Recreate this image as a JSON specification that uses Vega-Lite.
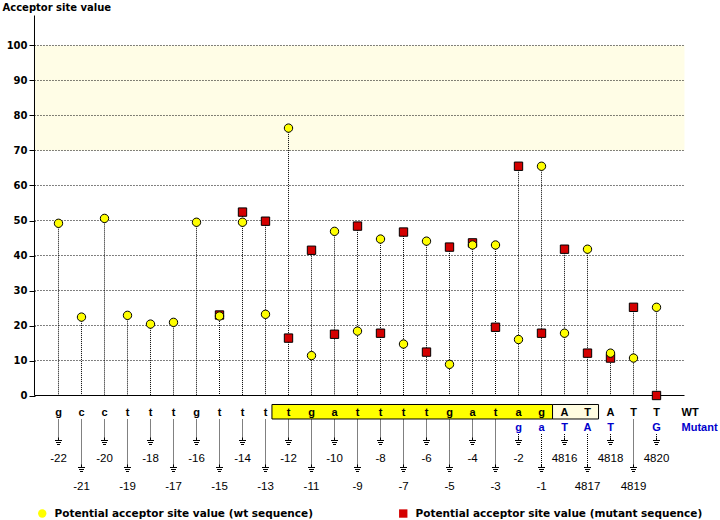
{
  "$schema": "https://vega.github.io/schema/vega-lite/v6.json",
  "width": 650,
  "height": 505,
  "autosize": {"type": "none"},
  "padding": {"left": 35, "top": 15, "right": 35, "bottom": 0},
  "background": "white",
  "config": {
    "view": {"stroke": null},
    "font": "DejaVu Sans",
    "axisY": {
      "grid": false, "domain": false, "ticks": true, "tickSize": 6, "tickColor": "black", "tickWidth": 1,
      "labelFont": "DejaVu Sans", "labelFontWeight": "bold", "labelFontSize": 10, "labelColor": "black", "labelPadding": 2,
      "titleFont": "DejaVu Sans", "titleFontWeight": "bold", "titleFontSize": 10, "titleColor": "black",
      "titleAngle": 0, "titleAlign": "left", "titleBaseline": "middle", "titleX": -33, "titleY": -8
    }
  },
  "datasets": {
    "pts": [
      {"i": 7, "s": "mut", "v": 23.0}, {"i": 8, "s": "mut", "v": 52.4}, {"i": 9, "s": "mut", "v": 49.8},
      {"i": 10, "s": "mut", "v": 16.4}, {"i": 11, "s": "mut", "v": 41.5}, {"i": 12, "s": "mut", "v": 17.5},
      {"i": 13, "s": "mut", "v": 48.4}, {"i": 14, "s": "mut", "v": 17.8}, {"i": 15, "s": "mut", "v": 46.7},
      {"i": 16, "s": "mut", "v": 12.4}, {"i": 17, "s": "mut", "v": 42.4}, {"i": 18, "s": "mut", "v": 43.6},
      {"i": 19, "s": "mut", "v": 19.5}, {"i": 20, "s": "mut", "v": 65.5}, {"i": 21, "s": "mut", "v": 17.8},
      {"i": 22, "s": "mut", "v": 41.8}, {"i": 23, "s": "mut", "v": 12.1}, {"i": 24, "s": "mut", "v": 10.7},
      {"i": 25, "s": "mut", "v": 25.2}, {"i": 26, "s": "mut", "v": 0},
      {"i": 0, "s": "wt", "v": 49.2}, {"i": 1, "s": "wt", "v": 22.4}, {"i": 2, "s": "wt", "v": 50.6},
      {"i": 3, "s": "wt", "v": 22.9}, {"i": 4, "s": "wt", "v": 20.4}, {"i": 5, "s": "wt", "v": 20.9},
      {"i": 6, "s": "wt", "v": 49.5}, {"i": 7, "s": "wt", "v": 22.7}, {"i": 8, "s": "wt", "v": 49.5},
      {"i": 9, "s": "wt", "v": 23.2}, {"i": 10, "s": "wt", "v": 76.4}, {"i": 11, "s": "wt", "v": 11.4},
      {"i": 12, "s": "wt", "v": 46.9}, {"i": 13, "s": "wt", "v": 18.4}, {"i": 14, "s": "wt", "v": 44.7},
      {"i": 15, "s": "wt", "v": 14.7}, {"i": 16, "s": "wt", "v": 44.1}, {"i": 17, "s": "wt", "v": 8.9},
      {"i": 18, "s": "wt", "v": 43.0}, {"i": 19, "s": "wt", "v": 43.0}, {"i": 20, "s": "wt", "v": 16.0},
      {"i": 21, "s": "wt", "v": 65.5}, {"i": 22, "s": "wt", "v": 17.8}, {"i": 23, "s": "wt", "v": 41.8},
      {"i": 24, "s": "wt", "v": 12.1}, {"i": 25, "s": "wt", "v": 10.7}, {"i": 26, "s": "wt", "v": 25.2}
    ],
    "seq": [
      {"i": 0, "pos": "-22", "wt": "g", "mut": ""}, {"i": 1, "pos": "-21", "wt": "c", "mut": ""},
      {"i": 2, "pos": "-20", "wt": "c", "mut": ""}, {"i": 3, "pos": "-19", "wt": "t", "mut": ""},
      {"i": 4, "pos": "-18", "wt": "t", "mut": ""}, {"i": 5, "pos": "-17", "wt": "t", "mut": ""},
      {"i": 6, "pos": "-16", "wt": "g", "mut": ""}, {"i": 7, "pos": "-15", "wt": "t", "mut": ""},
      {"i": 8, "pos": "-14", "wt": "t", "mut": ""}, {"i": 9, "pos": "-13", "wt": "t", "mut": ""},
      {"i": 10, "pos": "-12", "wt": "t", "mut": ""}, {"i": 11, "pos": "-11", "wt": "g", "mut": ""},
      {"i": 12, "pos": "-10", "wt": "a", "mut": ""}, {"i": 13, "pos": "-9", "wt": "t", "mut": ""},
      {"i": 14, "pos": "-8", "wt": "t", "mut": ""}, {"i": 15, "pos": "-7", "wt": "t", "mut": ""},
      {"i": 16, "pos": "-6", "wt": "t", "mut": ""}, {"i": 17, "pos": "-5", "wt": "g", "mut": ""},
      {"i": 18, "pos": "-4", "wt": "a", "mut": ""}, {"i": 19, "pos": "-3", "wt": "t", "mut": ""},
      {"i": 20, "pos": "-2", "wt": "a", "mut": "g"}, {"i": 21, "pos": "-1", "wt": "g", "mut": "a"},
      {"i": 22, "pos": "4816", "wt": "A", "mut": "T"}, {"i": 23, "pos": "4817", "wt": "T", "mut": "A"},
      {"i": 24, "pos": "4818", "wt": "A", "mut": "T"}, {"i": 25, "pos": "4819", "wt": "T", "mut": ""},
      {"i": 26, "pos": "4820", "wt": "T", "mut": "G"}
    ],
    "grid": [{"g": 10}, {"g": 20}, {"g": 30}, {"g": 40}, {"g": 50}, {"g": 60}, {"g": 70}, {"g": 80}, {"g": 90}, {"g": 100}]
  },
  "layer": [
    {
      "data": {"values": [{}]},
      "mark": {"type": "rect", "fill": "#FFFDE6"},
      "encoding": {
        "x": {"datum": -1.0435, "type": "quantitative", "scale": {"domain": [-1.0217, 27.239], "nice": false, "zero": false}, "axis": null},
        "x2": {"datum": 27.217},
        "y": {"datum": 70, "type": "quantitative", "scale": {"domain": [-35.571, 108.714], "nice": false, "zero": false}},
        "y2": {"datum": 100}
      }
    },
    {
      "data": {"name": "grid"},
      "mark": {"type": "rule", "color": "black", "strokeWidth": 1, "strokeDash": [1, 2]},
      "encoding": {
        "x": {"datum": -1.0435, "type": "quantitative", "axis": null},
        "x2": {"datum": 27.217},
        "y": {"field": "g", "type": "quantitative"}
      }
    },
    {
      "data": {"values": [{}]},
      "mark": {"type": "rule", "color": "black", "strokeWidth": 1},
      "encoding": {
        "x": {"datum": -1.0435, "type": "quantitative", "axis": null},
        "x2": {"datum": 27.217},
        "y": {"datum": 0, "type": "quantitative"}
      }
    },
    {
      "data": {"values": [{}]},
      "mark": {"type": "rule", "color": "black", "strokeWidth": 1},
      "encoding": {
        "x": {"datum": -1.0435, "type": "quantitative", "axis": null},
        "y": {"datum": 0, "type": "quantitative"},
        "y2": {"datum": 108.571}
      }
    },
    {
      "data": {"name": "pts"},
      "transform": [{"aggregate": [{"op": "max", "field": "v", "as": "top"}], "groupby": ["i"]}],
      "mark": {"type": "rule", "color": "black", "strokeWidth": 1, "strokeDash": [1, 1]},
      "encoding": {
        "x": {"field": "i", "type": "quantitative", "axis": null},
        "y": {"field": "top", "type": "quantitative"},
        "y2": {"datum": 0}
      }
    },
    {
      "data": {"name": "pts"},
      "mark": {"type": "point", "filled": true, "opacity": 1, "stroke": "black", "strokeWidth": 1, "size": 70},
      "encoding": {
        "x": {"field": "i", "type": "quantitative", "axis": null, "scale": {"domain": [-1.0217, 27.239], "nice": false, "zero": false}},
        "y": {"field": "v", "type": "quantitative", "scale": {"domain": [-35.571, 108.714], "nice": false, "zero": false},
          "axis": {"title": "Acceptor site value", "values": [0, 10, 20, 30, 40, 50, 60, 70, 80, 90, 100], "grid": false, "domain": false}},
        "shape": {"field": "s", "type": "nominal",
          "scale": {"domain": ["wt", "mut"], "range": ["circle", "square"]},
          "legend": {"title": null, "orient": "none", "legendX": 2, "legendY": 493, "direction": "horizontal",
            "labelExpr": "datum.label == 'wt' ? 'Potential acceptor site value (wt sequence)' : 'Potential acceptor site value (mutant sequence)'",
            "labelFont": "DejaVu Sans", "labelFontWeight": "bold", "labelFontSize": 10.5, "labelColor": "black", "labelLimit": 400,
            "symbolSize": 70, "symbolStrokeColor": "black", "symbolStrokeWidth": 1, "symbolOpacity": 1,
            "labelOffset": 7, "columnPadding": 84, "padding": 0}},
        "fill": {"field": "s", "type": "nominal",
          "scale": {"domain": ["wt", "mut"], "range": ["#FFFF00", "#D40000"]},
          "legend": {"title": null, "orient": "none", "legendX": 2, "legendY": 493, "direction": "horizontal",
            "labelExpr": "datum.label == 'wt' ? 'Potential acceptor site value (wt sequence)' : 'Potential acceptor site value (mutant sequence)'",
            "labelFont": "DejaVu Sans", "labelFontWeight": "bold", "labelFontSize": 10.5, "labelColor": "black", "labelLimit": 400,
            "symbolSize": 70, "symbolStrokeColor": "black", "symbolStrokeWidth": 1, "symbolOpacity": 1,
            "labelOffset": 7, "columnPadding": 84, "padding": 0}}
      }
    },
    {
      "data": {"values": [{}]},
      "mark": {"type": "rect", "fill": "#FFFF00", "stroke": "black", "strokeWidth": 1},
      "encoding": {
        "x": {"datum": 9.28, "type": "quantitative", "axis": null},
        "x2": {"datum": 21.48},
        "y": {"datum": -2.57, "type": "quantitative"},
        "y2": {"datum": -6.71}
      }
    },
    {
      "data": {"values": [{}]},
      "mark": {"type": "rect", "fill": "#FFFCE0", "stroke": "black", "strokeWidth": 1},
      "encoding": {
        "x": {"datum": 21.48, "type": "quantitative", "axis": null},
        "x2": {"datum": 23.48},
        "y": {"datum": -2.57, "type": "quantitative"},
        "y2": {"datum": -6.71}
      }
    },
    {
      "data": {"name": "seq"},
      "mark": {"type": "text", "font": "Liberation Sans", "fontWeight": "bold", "fontSize": 11, "color": "black", "baseline": "middle", "align": "center"},
      "encoding": {
        "x": {"field": "i", "type": "quantitative", "axis": null},
        "y": {"datum": -5.0, "type": "quantitative"},
        "text": {"field": "wt", "type": "nominal"}
      }
    },
    {
      "data": {"name": "seq"},
      "mark": {"type": "text", "font": "Liberation Sans", "fontWeight": "bold", "fontSize": 11, "color": "#0000CC", "baseline": "middle", "align": "center"},
      "encoding": {
        "x": {"field": "i", "type": "quantitative", "axis": null},
        "y": {"datum": -9.29, "type": "quantitative"},
        "text": {"field": "mut", "type": "nominal"}
      }
    },
    {
      "data": {"name": "seq"},
      "transform": [{"filter": "datum.i % 2 == 0 && datum.mut == ''"}],
      "mark": {"type": "rule", "color": "black", "strokeWidth": 1, "strokeDash": [1, 1]},
      "encoding": {
        "x": {"field": "i", "type": "quantitative", "axis": null},
        "y": {"datum": -6.86, "type": "quantitative"},
        "y2": {"datum": -12.29}
      }
    },
    {
      "data": {"name": "seq"},
      "transform": [{"filter": "datum.i % 2 == 0 && datum.mut != ''"}],
      "mark": {"type": "rule", "color": "black", "strokeWidth": 1, "strokeDash": [1, 1]},
      "encoding": {
        "x": {"field": "i", "type": "quantitative", "axis": null},
        "y": {"datum": -11.0, "type": "quantitative"},
        "y2": {"datum": -12.29}
      }
    },
    {
      "data": {"name": "seq"},
      "transform": [{"filter": "datum.i % 2 == 1 && datum.mut == ''"}],
      "mark": {"type": "rule", "color": "black", "strokeWidth": 1, "strokeDash": [1, 1]},
      "encoding": {
        "x": {"field": "i", "type": "quantitative", "axis": null},
        "y": {"datum": -6.86, "type": "quantitative"},
        "y2": {"datum": -20.0}
      }
    },
    {
      "data": {"name": "seq"},
      "transform": [{"filter": "datum.i % 2 == 1 && datum.mut != ''"}],
      "mark": {"type": "rule", "color": "black", "strokeWidth": 1, "strokeDash": [1, 1]},
      "encoding": {
        "x": {"field": "i", "type": "quantitative", "axis": null},
        "y": {"datum": -11.0, "type": "quantitative"},
        "y2": {"datum": -20.0}
      }
    },
    {
      "data": {"name": "seq"},
      "transform": [{"filter": "datum.i % 2 == 0"}],
      "mark": {"type": "point", "shape": "M0,-1L0,-0.4M-0.7,-0.4L0.7,-0.4M-0.5,0L0.5,0M-0.3,0.4L0.3,0.4", "size": 100, "filled": false, "stroke": "black", "strokeWidth": 1, "opacity": 1},
      "encoding": {
        "x": {"field": "i", "type": "quantitative", "axis": null},
        "y": {"datum": -13.43, "type": "quantitative"}
      }
    },
    {
      "data": {"name": "seq"},
      "transform": [{"filter": "datum.i % 2 == 1"}],
      "mark": {"type": "point", "shape": "M0,-1L0,-0.4M-0.7,-0.4L0.7,-0.4M-0.5,0L0.5,0M-0.3,0.4L0.3,0.4", "size": 100, "filled": false, "stroke": "black", "strokeWidth": 1, "opacity": 1},
      "encoding": {
        "x": {"field": "i", "type": "quantitative", "axis": null},
        "y": {"datum": -21.14, "type": "quantitative"}
      }
    },
    {
      "data": {"name": "seq"},
      "transform": [{"filter": "datum.i % 2 == 0"}],
      "mark": {"type": "text", "font": "Liberation Sans", "fontSize": 11.5, "color": "black", "baseline": "middle", "align": "center"},
      "encoding": {
        "x": {"field": "i", "type": "quantitative", "axis": null},
        "y": {"datum": -18.0, "type": "quantitative"},
        "text": {"field": "pos", "type": "nominal"}
      }
    },
    {
      "data": {"name": "seq"},
      "transform": [{"filter": "datum.i % 2 == 1"}],
      "mark": {"type": "text", "font": "Liberation Sans", "fontSize": 11.5, "color": "black", "baseline": "middle", "align": "center"},
      "encoding": {
        "x": {"field": "i", "type": "quantitative", "axis": null},
        "y": {"datum": -26.0, "type": "quantitative"},
        "text": {"field": "pos", "type": "nominal"}
      }
    },
    {
      "data": {"values": [{}]},
      "mark": {"type": "text", "font": "Liberation Sans", "fontWeight": "bold", "fontSize": 11, "color": "black", "baseline": "middle", "align": "left"},
      "encoding": {
        "x": {"datum": 27.09, "type": "quantitative", "axis": null},
        "y": {"datum": -5.0, "type": "quantitative"},
        "text": {"value": "WT"}
      }
    },
    {
      "data": {"values": [{}]},
      "mark": {"type": "text", "font": "Liberation Sans", "fontWeight": "bold", "fontSize": 11, "color": "#0000CC", "baseline": "middle", "align": "left"},
      "encoding": {
        "x": {"datum": 27.09, "type": "quantitative", "axis": null},
        "y": {"datum": -9.29, "type": "quantitative"},
        "text": {"value": "Mutant"}
      }
    }
  ]
}
